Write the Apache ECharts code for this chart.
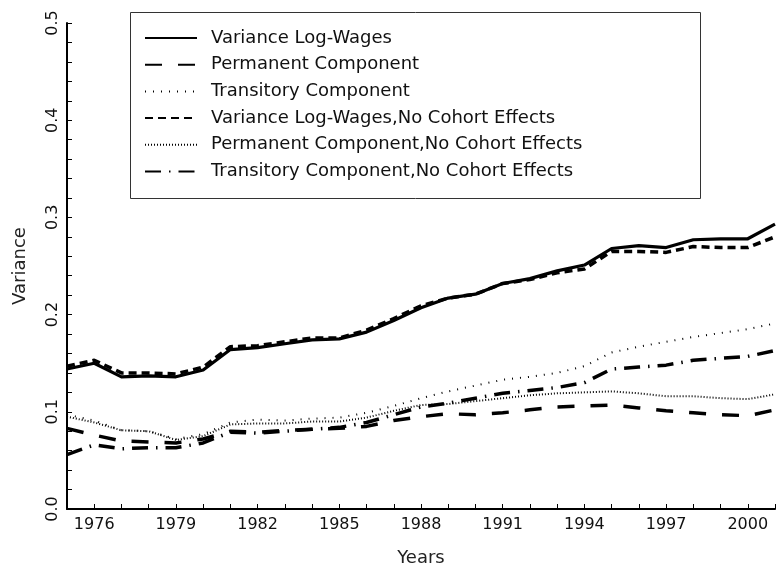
<!DOCTYPE html>
<html>
<head>
<meta charset="utf-8">
<script src="https://cdn.jsdelivr.net/npm/echarts@6/dist/echarts.min.js"></script>
<style>html,body{margin:0;padding:0;background:#fff;}#c{width:778px;height:572px;}</style>
</head>
<body>
<div id="c"></div>
<script>
var years = [1975,1976,1977,1978,1979,1980,1981,1982,1983,1984,1985,1986,1987,1988,1989,1990,1991,1992,1993,1994,1995,1996,1997,1998,1999,2000,2001];
var varLog  = [0.144,0.150,0.136,0.137,0.136,0.143,0.164,0.166,0.170,0.174,0.175,0.182,0.194,0.207,0.217,0.221,0.232,0.237,0.245,0.251,0.268,0.271,0.269,0.277,0.278,0.278,0.293];
var perm    = [0.083,0.076,0.070,0.069,0.068,0.072,0.080,0.079,0.081,0.082,0.083,0.085,0.091,0.095,0.098,0.097,0.099,0.102,0.105,0.106,0.107,0.104,0.101,0.099,0.097,0.096,0.102];
var trans   = [0.097,0.091,0.081,0.080,0.072,0.077,0.089,0.092,0.091,0.093,0.094,0.099,0.106,0.114,0.121,0.127,0.133,0.136,0.140,0.147,0.161,0.167,0.172,0.177,0.181,0.185,0.191];
var varNC   = [0.147,0.153,0.140,0.140,0.139,0.146,0.167,0.168,0.172,0.176,0.176,0.184,0.196,0.209,0.217,0.221,0.232,0.236,0.243,0.247,0.265,0.265,0.264,0.270,0.269,0.269,0.280];
var permNC  = [0.095,0.089,0.081,0.080,0.071,0.075,0.087,0.088,0.088,0.090,0.090,0.094,0.101,0.107,0.108,0.111,0.114,0.117,0.119,0.120,0.121,0.119,0.116,0.116,0.114,0.113,0.118];
var transNC = [0.056,0.066,0.062,0.063,0.063,0.068,0.079,0.078,0.080,0.082,0.084,0.089,0.097,0.105,0.109,0.114,0.119,0.122,0.125,0.130,0.144,0.146,0.148,0.153,0.155,0.157,0.163];
var names = ['Variance Log-Wages','Permanent Component','Transitory Component','Variance Log-Wages,No Cohort Effects','Permanent Component,No Cohort Effects','Transitory Component,No Cohort Effects'];
var yTicks = ['0.0','0.1','0.2','0.3','0.4','0.5'];

function pairs(arr){ return years.map(function(y,i){ return [y, arr[i]]; }); }
var styles = [
  {width:3.2, type:'solid'},
  {width:3.5, type:[17,16]},
  {width:2, type:[1,7]},
  {width:3.5, type:[8,5]},
  {width:2, type:[1,2]},
  {width:3.5, type:[16,8,1.5,8]}
];
var seriesData = [varLog, perm, trans, varNC, permNC, transNC];
var series = seriesData.map(function(d,i){
  return {
    name: names[i], type:'line', data: pairs(d), symbol:'none', clip:false,
    lineStyle:{color:'#000', width:styles[i].width, type:styles[i].type, cap:'butt', join:'round'},
    itemStyle:{color:'#000'},
    animation:false
  };
});

var chart = echarts.init(document.getElementById('c'), null, {renderer:'canvas'});
chart.setOption({
  backgroundColor:'#fff',
  animation:false,
  textStyle:{fontFamily:'DejaVu Sans'},
  grid:{left:67, right:-3, top:23, bottom:60, containLabel:false},
  graphic:[{type:'rect', shape:{x:130.5, y:12.5, width:570, height:186}, style:{fill:'none', stroke:'#333', lineWidth:1}, z:100}],
  legend:{
    orient:'vertical', left:144, top:29, padding:0,
    itemWidth:52, itemHeight:18, itemGap:8.7,
    data: names,
    itemStyle:{color:'rgba(0,0,0,0)', borderWidth:0, borderColor:'rgba(0,0,0,0)'},
    textStyle:{fontFamily:'DejaVu Sans', fontSize:18, color:'#111', lineHeight:18, padding:[0,0,0,9]}
  },
  xAxis:{
    type:'value', min:1975, max:2001, interval:1,
    name:'Years', nameLocation:'middle', nameGap:40,
    nameTextStyle:{fontFamily:'DejaVu Sans', fontSize:18, color:'#222'},
    axisLine:{show:true, lineStyle:{color:'#000', width:2}},
    axisTick:{show:true, inside:true, length:5, lineStyle:{color:'#000', width:1}},
    axisLabel:{fontFamily:'DejaVu Sans', fontSize:16, color:'#111', margin:8,
      formatter:function(v){ return ((v-1976)%3===0 && v<=2000) ? String(v) : ''; }},
    splitLine:{show:false}
  },
  yAxis:{
    type:'value', min:0, max:0.5, interval:0.1,
    name:'Variance', nameLocation:'middle', nameGap:38, nameRotate:90,
    nameTextStyle:{fontFamily:'DejaVu Sans', fontSize:18, color:'#222'},
    axisLine:{show:true, lineStyle:{color:'#000', width:2}},
    axisTick:{show:true, inside:true, length:5, lineStyle:{color:'#000', width:1}},
    minorTick:{show:true, splitNumber:5, length:5, lineStyle:{color:'#000', width:1}},
    axisLabel:{fontFamily:'DejaVu Sans', fontSize:16, color:'#111', rotate:90, margin:6,
      formatter:function(v){ return yTicks[Math.round(v*10)]; }},
    splitLine:{show:false}
  },
  series: series
});
</script>
</body>
</html>
